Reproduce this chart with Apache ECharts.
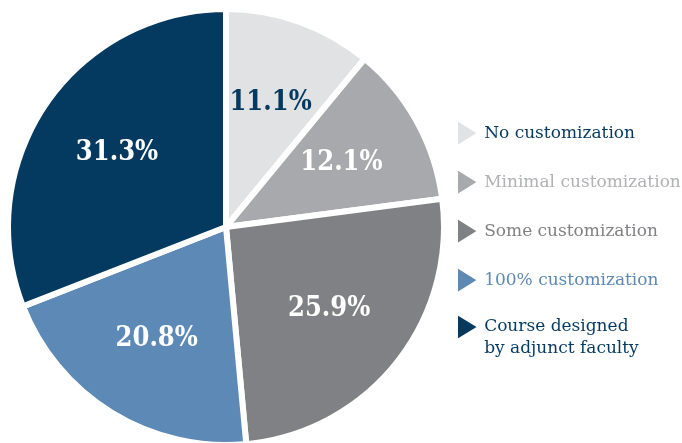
<!DOCTYPE html>
<html>
<head>
<meta charset="utf-8">
<script src="https://cdn.jsdelivr.net/npm/echarts@6/dist/echarts.min.js"></script>
<style>
  html, body { margin: 0; padding: 0; background: #ffffff; }
  #chart { width: 682px; height: 443px; }
</style>
</head>
<body>
<div id="chart"></div>
<script>
// Share of courses by level of customization
const categories = [
  'No customization',
  'Minimal customization',
  'Some customization',
  '100% customization',
  'Course designed\nby adjunct faculty'
];
const shares = [11.1, 12.1, 25.9, 20.8, 31.3];
const sliceColors = ['#e1e2e4', '#a8a9ac', '#808184', '#5d89b6', '#043a5f'];
const labelColors = ['#043a5f', '#ffffff', '#ffffff', '#ffffff', '#ffffff'];
const legendTextColors = ['#043a5f', '#b1b2b5', '#808184', '#5d89b6', '#043a5f'];

const center = [226, 227];
const outerR = 218;

const sliceData = categories.map((name, i) => ({
  name,
  value: shares[i],
  itemStyle: { color: sliceColors[i] }
}));

const labelData = categories.map((name, i) => ({
  name,
  value: shares[i],
  itemStyle: { color: 'rgba(0,0,0,0)' },
  label: { color: labelColors[i] }
}));

const legendItem = (name, i) => ({
  name,
  icon: 'path://M0,0 L17,10.5 L0,21 Z',
  itemStyle: { color: sliceColors[i] },
  textStyle: { color: legendTextColors[i] }
});

const legendBase = {
  orient: 'vertical',
  left: 456,
  padding: 0,
  itemWidth: 23,
  itemHeight: 26.25,
  itemGap: 20.75,
  selectedMode: false,
  textStyle: {
    fontFamily: 'DejaVu Serif',
    fontSize: 17,
    lineHeight: 22
  }
};

const lastIdx = categories.length - 1;

const chart = echarts.init(document.getElementById('chart'), null, { renderer: 'canvas' });
chart.setOption({
  animation: false,
  backgroundColor: '#ffffff',
  legend: [
    Object.assign({}, legendBase, {
      top: 119,
      data: categories.slice(0, lastIdx).map(legendItem)
    }),
    Object.assign({}, legendBase, {
      // two-line entry: first line sits level with its marker
      top: 294,
      formatter: name => '\n' + name,
      data: [legendItem(categories[lastIdx], lastIdx)]
    })
  ],
  series: [
    {
      type: 'pie',
      center: center,
      radius: [0, outerR],
      startAngle: 90,
      clockwise: true,
      silent: true,
      label: { show: false },
      labelLine: { show: false },
      itemStyle: { borderColor: '#ffffff', borderWidth: 6 },
      data: sliceData
    },
    {
      type: 'pie',
      center: center,
      radius: [40, outerR],
      startAngle: 90,
      clockwise: true,
      silent: true,
      labelLine: { show: false },
      label: {
        show: true,
        position: 'inside',
        formatter: '{c}%',
        fontFamily: 'DejaVu Serif Condensed, DejaVu Serif',
        fontWeight: 'bold',
        fontSize: 27
      },
      data: labelData
    }
  ]
});
</script>
</body>
</html>
